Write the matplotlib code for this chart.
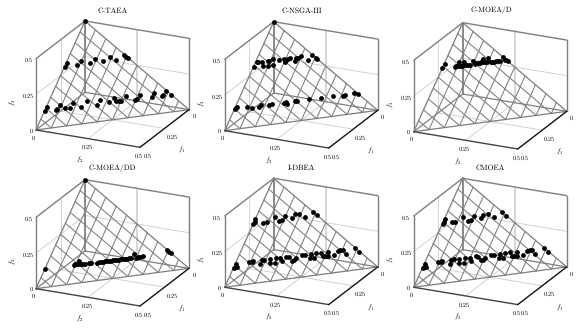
import matplotlib
matplotlib.use("Agg")
import matplotlib.pyplot as plt
import numpy as np
from mpl_toolkits.mplot3d import proj3d

plt.rcParams['font.family'] = ['cmr10', 'DejaVu Serif']
plt.rcParams['mathtext.fontset'] = 'cm'
plt.rcParams['axes.unicode_minus'] = False
plt.rcParams['axes.formatter.use_mathtext'] = True
plt.rcParams['text.hinting'] = 'none'

titles = ['C-TAEA', 'C-NSGA-III', 'C-MOEA/D', 'C-MOEA/DD', 'I-DBEA', 'CMOEA']
tick_labels = {0.0: '0', 0.25: '0.25', 0.5: '0.5'}
mesh_levels = [0.05, 0.10, 0.15, 0.20, 0.25, 0.30, 0.35, 0.40, 0.45]

taea_f1 = [0,.209,.188,.169,.144,.126,.097,.083,.049,.043,.004,.002,0,.412,.391,.377,.371,.347,.346,.331,.305,.294,.261,.242,.219,.202,.176,.178,.171,.164,.133,.120,.113,.088,.065,.044,.033,.027,.003,.002]
taea_f2 = [0,.001,.004,.043,.049,.084,.096,.126,.144,.168,.188,.199,.209,.002,.003,.037,.042,.045,.068,.082,.088,.121,.133,.174,.174,.211,.220,.235,.243,.250,.262,.296,.301,.307,.351,.352,.384,.387,.392,.414]
taea_f3 = [.5,.290,.308,.288,.307,.290,.307,.291,.307,.289,.308,.299,.291,.086,.106,.086,.087,.108,.086,.087,.107,.085,.106,.084,.107,.087,.104,.087,.086,.086,.105,.084,.086,.105,.084,.104,.083,.086,.105,.084]

nsga_f1 = [0,.207,.182,.178,.166,.177,.148,.145,.162,.126,.145,.110,.095,.102,.093,.084,.074,.070,.057,.049,.038,.031,.002,.001,.001,.400,.394,.387,.357,.349,.325,.312,.289,.279,.240,.233,.235,.204,.196,.158,.120,.081,.050,.041,.008,0]
nsga_f2 = [0,.001,.006,.010,.024,.031,.041,.044,.048,.058,.065,.079,.096,.103,.103,.106,.115,.137,.136,.142,.148,.180,.187,.202,.211,.003,.004,.008,.041,.060,.081,.088,.114,.122,.163,.168,.175,.198,.204,.244,.282,.322,.355,.362,.390,.405]
nsga_f3 = [.5,.292,.312,.312,.310,.292,.311,.311,.290,.316,.290,.311,.309,.295,.304,.310,.311,.293,.307,.309,.314,.289,.311,.297,.288,.097,.102,.105,.102,.091,.094,.100,.097,.099,.097,.099,.090,.098,.100,.098,.098,.097,.095,.097,.102,.095]

moead_f1 = [.209,.188,.167,.163,.160,.141,.153,.149,.144,.127,.137,.132,.126,.119,.098,.102,.098,.091,.085,.080,.076,.062,.068,.061,.047,.051,.045,.039,.033,.029,.022,0,.005,.001,0]
moead_f2 = [.001,.002,.043,.046,.050,.049,.056,.062,.066,.065,.073,.077,.084,.090,.095,.105,.109,.115,.122,.126,.131,.129,.140,.146,.144,.158,.164,.171,.177,.182,.189,.192,.206,.211,.216]
moead_f3 = [.290,.310,.290,.291,.290,.310,.291,.289,.290,.308,.290,.291,.290,.291,.307,.293,.293,.294,.293,.294,.293,.309,.292,.293,.309,.291,.291,.290,.290,.289,.289,.308,.289,.288,.284]

moeadd_f1 = [0,.407,.314,.308,.302,.288,.294,.289,.283,.279,.265,.258,.242,.235,.228,.221,.215,.209,.202,.196,.189,.183,.176,.170,.163,.156,.151,.144,.137,.130,.106,.114,.106,.100,.091,.001,.001,0]
moeadd_f2 = [0,.001,.096,.099,.106,.106,.112,.119,.125,.130,.146,.152,.170,.177,.183,.190,.196,.203,.210,.216,.223,.230,.236,.243,.249,.256,.263,.269,.275,.282,.287,.300,.306,.312,.321,.396,.404,.413]
moeadd_f3 = [.5,.092,.090,.093,.092,.106,.094,.092,.092,.091,.089,.090,.088,.088,.089,.089,.089,.088,.088,.088,.088,.087,.088,.087,.088,.088,.086,.087,.088,.088,.107,.086,.088,.088,.088,.103,.095,.087]

idbea_f1 = [.209,.198,.188,.176,.165,.126,.124,.114,.093,.080,.061,.047,.041,0,0,.409,.401,.390,.398,.346,.338,.333,.323,.305,.298,.279,.293,.276,.258,.246,.250,.224,.217,.222,.213,.200,.175,.166,.164,.145,.152,.130,.113,.119,.111,.092,.105,.084,.059,.050,.041,.045,.002,.002]
idbea_f2 = [.001,.001,.001,.033,.044,.064,.086,.094,.097,.128,.129,.144,.169,.191,.209,.002,.006,.002,.013,.045,.055,.059,.088,.086,.093,.114,.119,.137,.133,.148,.160,.167,.175,.192,.199,.202,.219,.228,.250,.247,.263,.263,.280,.292,.300,.303,.310,.329,.335,.344,.352,.370,.392,.413]
idbea_f3 = [.290,.301,.311,.291,.291,.310,.290,.292,.310,.292,.310,.309,.290,.309,.291,.089,.093,.108,.089,.109,.107,.108,.089,.109,.109,.107,.088,.087,.109,.106,.090,.109,.108,.086,.088,.098,.106,.106,.086,.108,.085,.107,.107,.089,.089,.105,.085,.087,.106,.106,.107,.085,.106,.085]

cmoea_f1 = [.208,.198,.187,.176,.166,.126,.125,.115,.093,.081,.062,.047,.042,.001,0,.410,.401,.390,.398,.345,.338,.333,.322,.304,.294,.278,.293,.277,.258,.244,.251,.222,.217,.221,.213,.202,.174,.166,.164,.145,.151,.129,.112,.119,.111,.091,.105,.084,.058,.049,.041,.045,.001,.002]
cmoea_f2 = [.001,.001,.001,.032,.043,.063,.085,.093,.097,.127,.128,.143,.168,.191,.210,.001,.006,.002,.013,.046,.055,.059,.090,.087,.096,.114,.119,.136,.133,.149,.159,.168,.175,.190,.199,.203,.220,.228,.250,.247,.263,.262,.280,.292,.300,.302,.310,.329,.336,.345,.352,.370,.393,.413]
cmoea_f3 = [.291,.301,.312,.292,.291,.311,.290,.292,.310,.292,.310,.310,.290,.308,.290,.089,.093,.108,.089,.109,.107,.108,.088,.109,.110,.108,.088,.087,.109,.107,.090,.110,.108,.089,.088,.095,.106,.106,.086,.108,.086,.109,.108,.089,.089,.107,.085,.087,.106,.106,.107,.085,.106,.085]

series = [(taea_f1, taea_f2, taea_f3), (nsga_f1, nsga_f2, nsga_f3), (moead_f1, moead_f2, moead_f3),
          (moeadd_f1, moeadd_f2, moeadd_f3), (idbea_f1, idbea_f2, idbea_f3), (cmoea_f1, cmoea_f2, cmoea_f3)]

# layout: pixel position of the apex of each panel, and of its title
W, H = 581, 329
apex_px = [(85.0, 21.0), (273.7, 21.7), (462.7, 22.7), (85.0, 179.7), (273.7, 178.3), (462.7, 178.3)]
title_px = [(112.7, 11), (301.7, 11), (491, 10), (112.7, 168), (301.7, 168), (490.7, 168)]
F2_WIDTH_PX = 104.0
MAXV = 0.5
PT = 0.72
C_FRAME, C_MESH, C_GRID = '#7f7f7f', '#7d7d7d', '#cccccc'

fig = plt.figure(figsize=(W / 100, H / 100), dpi=100)
fig.patch.set_facecolor('white')


def to_display(ax, a, b, c):
    x, y, _ = proj3d.proj_transform(a, b, c, ax.get_proj())
    return ax.transData.transform((x, y))


def place(ax, w, cx, cy):
    ax.set_position([(cx - w / 2) / W, 1 - (cy + w / 2) / H, w / W, w / H])
    ax.apply_aspect()


def note(ax, a, b, c, s, dx, dy, size=4.5, rotation=0):
    x, y, _ = proj3d.proj_transform(a, b, c, ax.get_proj())
    ax.annotate(s, xy=(x, y), xytext=(dx * PT, -dy * PT), textcoords='offset points',
                ha='center', va='center', fontsize=size, rotation=rotation,
                annotation_clip=False, color='black')


for i, (vals, title) in enumerate(zip(series, titles)):
    ax = fig.add_axes([0, 0, 1, 1], projection='3d')
    ax.set_proj_type('ortho')
    ax.view_init(elev=20.97, azim=24.97)
    ax.set_box_aspect((348, 344, 229))
    ax.set_xlim(0, MAXV, view_margin=0)
    ax.set_ylim(0, MAXV, view_margin=0)
    ax.set_zlim(0, MAXV, view_margin=0)
    ax.set_axis_off()
    ax.patch.set_visible(False)
    ax.computed_zorder = False

    # fit the projected box to the panel location
    place(ax, 200, 300, 160)
    p0 = to_display(ax, MAXV, 0, 0)
    p1 = to_display(ax, MAXV, MAXV, 0)
    w = 200 * F2_WIDTH_PX / abs(p1[0] - p0[0])
    place(ax, w, 300, 160)
    ap = to_display(ax, 0, 0, MAXV)
    place(ax, w, 300 + apex_px[i][0] - ap[0], 160 + ap[1] - (H - apex_px[i][1]))

    def seg(a, b, c, lw, z=1):
        ax.plot(a, b, c, color=c_now, lw=lw, zorder=z, solid_capstyle='round', clip_on=False)

    # light grid on the floor and back walls
    c_now = C_GRID
    m = 0.25
    seg([m, m], [0, MAXV], [0, 0], 0.6)
    seg([0, MAXV], [m, m], [0, 0], 0.6)
    seg([0, 0], [0, MAXV], [m, m], 0.6)
    seg([0, MAXV], [0, 0], [m, m], 0.6)
    seg([0, 0], [m, m], [0, MAXV], 1.1)
    seg([m, m], [0, 0], [0, MAXV], 0.6)

    # frame
    c_now = C_FRAME
    seg([0, 0], [0, 0], [0, MAXV], 1.3, 2)
    seg([0, MAXV], [0, 0], [MAXV, MAXV], 1.0, 2)
    seg([0, 0], [0, MAXV], [MAXV, MAXV], 1.0, 2)
    seg([MAXV, MAXV], [0, 0], [0, MAXV], 1.0, 2)
    seg([0, 0], [MAXV, MAXV], [0, MAXV], 1.0, 2)
    seg([0, MAXV], [0, 0], [0, 0], 0.9, 2)
    seg([0, 0], [0, MAXV], [0, 0], 0.9, 2)

    # surface mesh f1+f2+f3 = 0.5
    c_now = C_MESH
    for lv in mesh_levels:
        seg([lv, lv], [0, MAXV - lv], [MAXV - lv, 0], 0.75, 3)
        seg([0, MAXV - lv], [lv, lv], [MAXV - lv, 0], 0.75, 3)
    seg([0, MAXV], [0, 0], [MAXV, 0], 0.9, 3)
    seg([0, 0], [0, MAXV], [MAXV, 0], 0.9, 3)
    seg([MAXV, 0], [0, MAXV], [0, 0], 0.9, 3)

    # front axes
    c_now = '#444444'
    seg([MAXV, MAXV], [0, MAXV], [0, 0], 1.0, 4)
    c_now = '#111111'
    seg([MAXV, 0], [MAXV, MAXV], [0, 0], 1.0, 4)

    # solutions
    ax.scatter(vals[0], vals[1], vals[2], s=12, c='black', linewidths=0,
               depthshade=False, zorder=5, clip_on=False)

    # tick labels
    for v, s in tick_labels.items():
        note(ax, MAXV, 0, v, s, -7.5 if v else -5, 2 if v else 1)
        note(ax, MAXV, v, 0, s, -1 if v else -2.5, 9 if v else 8)
        note(ax, v, MAXV, 0, s, 6.5 + 1 * (v > 0) if v else 5, 9 if v else 7)

    note(ax, MAXV, 0, 0.25, r'$f_3$', -23, 8, 4.8, 90)
    note(ax, MAXV, 0.25, 0, r'$f_2$', -8, 21.5, 4.8)
    note(ax, 0.25, MAXV, 0, r'$f_1$', 17, 22, 4.8)

    fig.text(title_px[i][0] / W, 1 - title_px[i][1] / H, title, ha='center', va='center',
             fontsize=5.5, color='black')

fig.savefig('out.png', dpi=100, facecolor='white')
